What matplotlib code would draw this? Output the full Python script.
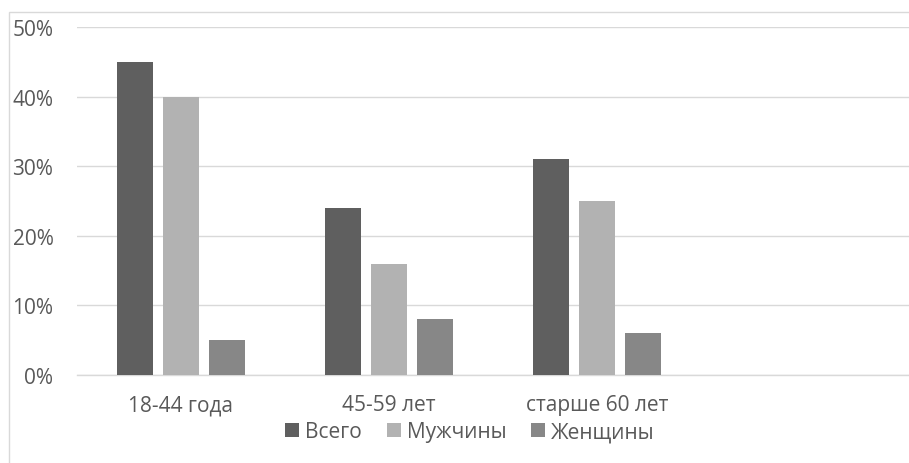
import numpy as np
import matplotlib.pyplot as plt
from matplotlib.patches import Rectangle

# данные
categories = ['18-44 года', '45-59 лет', 'старше 60 лет', '']
vsego = [45, 24, 31, np.nan]
muzhchiny = [40, 16, 25, np.nan]
zhenshchiny = [5, 8, 6, np.nan]
series_names = ['Всего', 'Мужчины', 'Женщины']
colors = ['#5f5f5f', '#b2b2b2', '#878787']

plt.rcParams['font.family'] = ['Open Sans', 'DejaVu Sans']

W, H = 909, 464
fig = plt.figure(figsize=(W / 100, H / 100), dpi=100)
ax = fig.add_axes([77 / W, 1 - 376 / H, (W - 77) / W, (376 - 28) / H])

# рамка области диаграммы
fig.patches.append(Rectangle((9 / W, -0.01), 1.0, 1 - 13 / H + 0.01,
                             transform=fig.transFigure, fill=False,
                             edgecolor='#d9d9d9', linewidth=1.0))

x = np.arange(len(categories))
bw = 36 / 208
step = 46 / 208
for i, (vals, name) in enumerate(zip([vsego, muzhchiny, zhenshchiny], series_names)):
    ax.bar(x + (i - 1) * step, vals, width=bw, color=colors[i], label=name, zorder=3)

ax.set_xlim(-0.5, len(categories) - 0.5)
ax.set_ylim(0, 50)
ax.set_yticks(range(0, 51, 10))
ax.set_yticklabels([f'{v}%' for v in range(0, 51, 10)])
ax.set_xticks(x)
ax.set_xticklabels(categories)
ax.grid(axis='y', color='#d9d9d9', linewidth=1.0, zorder=0)
for s in ['top', 'right', 'left']:
    ax.spines[s].set_visible(False)
ax.spines['bottom'].set_color('#d9d9d9')
ax.spines['bottom'].set_linewidth(1.0)
ax.tick_params(axis='both', length=0, labelsize=15, colors='#595959')
ax.tick_params(axis='y', pad=17)
ax.tick_params(axis='x', pad=14)

fig.legend(loc='center', bbox_to_anchor=(470 / W, 1 - 433 / H), ncol=3,
           frameon=False, fontsize=15, labelcolor='#595959',
           handlelength=0.67, handleheight=0.67, handletextpad=0.29,
           columnspacing=1.2, borderpad=0, borderaxespad=0)

fig.savefig('out.png', dpi=100)
